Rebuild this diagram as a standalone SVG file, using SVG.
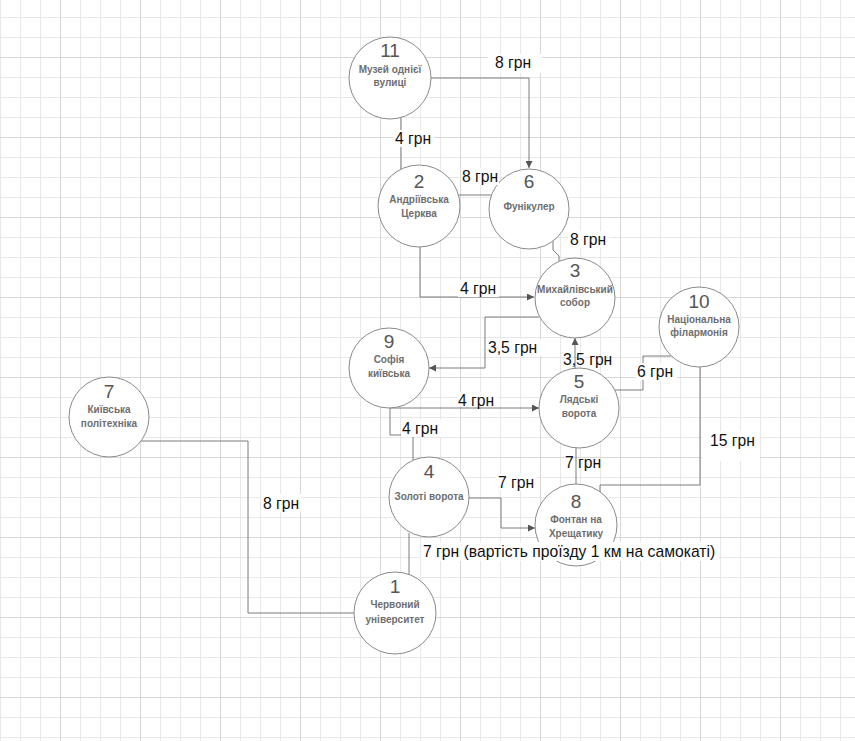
<svg xmlns="http://www.w3.org/2000/svg" width="855" height="741" viewBox="0 0 855 741">
<defs>
<pattern id="minor" x="0" y="17" width="20" height="20" patternUnits="userSpaceOnUse">
<rect x="0" y="0" width="1" height="20" fill="#e8e8e8"/>
<rect x="0" y="0" width="20" height="1" fill="#e8e8e8"/>
</pattern>
<pattern id="major" x="60" y="57" width="80" height="80" patternUnits="userSpaceOnUse">
<rect x="0" y="0" width="1" height="80" fill="#d8d8d8"/>
<rect x="0" y="0" width="80" height="1" fill="#d8d8d8"/>
</pattern>
<marker id="arr" viewBox="0 0 10 10" refX="10" refY="5" markerWidth="9" markerHeight="7" markerUnits="userSpaceOnUse" orient="auto">
<path d="M0,0 L10,5 L0,10 z" fill="#555"/>
</marker>
<style>
.node circle{fill:#fff;stroke:#8a8a8a;stroke-width:1}
.num{font-family:"Liberation Sans",Arial,sans-serif;font-size:19px;fill:#555;text-anchor:middle}
.nm{font-family:"Liberation Sans",Arial,sans-serif;font-size:10px;font-weight:bold;fill:#6e6e6e;text-anchor:middle}
.edge{fill:none;stroke:#7a7a7a;stroke-width:1}
.ar{marker-end:url(#arr)}
.lbl{font-family:"Liberation Sans",Arial,sans-serif;font-size:15.7px;fill:#111}
.bg{fill:#fff}
</style>
</defs>
<rect width="855" height="741" fill="#fff"/>
<rect width="855" height="741" fill="url(#minor)"/>
<rect width="855" height="741" fill="url(#major)"/>

<g id="connectors">
<path class="edge ar" d="M431,78 H529 V168"/>
<path class="edge" d="M401,117 V169"/>
<path class="edge" d="M459,195 H491"/>
<path class="edge" d="M553,241 V250 L559,256 V261"/>
<path class="edge ar" d="M420,247 V297 H534"/>
<path class="edge ar" d="M539,317 H485 V368 H429"/>
<path class="edge ar" d="M575,368 V338"/>
<path class="edge ar" d="M390,408 H539"/>
<path class="edge" d="M390,408 V435 H413 V460"/>
<path class="edge" d="M615,390 H643 V356 H671"/>
<path class="edge" d="M700,367 V485 H600 V492"/>
<path class="edge" d="M576,448 V484"/>
<path class="edge ar" d="M469,498 H501 V528 H535"/>
<path class="edge" d="M409,533 V575"/>
<path class="edge" d="M141,441 H248 V613 H354"/>
</g>

<g id="nodes">
<g id="n11" class="node"><circle cx="390" cy="78" r="41"/><text class="num" x="390" y="57">11</text><text class="nm" x="390" y="73">Музей однієї</text><text class="nm" x="390" y="86">вулиці</text></g>
<g id="n2" class="node"><circle cx="419" cy="206" r="41"/><text class="num" x="419" y="188">2</text><text class="nm" x="419" y="203">Андріївська</text><text class="nm" x="419" y="217">Церква</text></g>
<g id="n6" class="node"><circle cx="529" cy="209" r="40"/><text class="num" x="529" y="188">6</text><text class="nm" x="529" y="210">Фунікулер</text></g>
<g id="n3" class="node"><circle cx="575" cy="298" r="40"/><text class="num" x="575" y="277">3</text><text class="nm" x="575" y="293">Михайлівський</text><text class="nm" x="575" y="306">собор</text></g>
<g id="n9" class="node"><circle cx="389" cy="368" r="40"/><text class="num" x="389" y="348">9</text><text class="nm" x="389" y="363">Софія</text><text class="nm" x="389" y="377">київська</text></g>
<g id="n5" class="node"><circle cx="579" cy="408" r="40"/><text class="num" x="579" y="388">5</text><text class="nm" x="579" y="403">Лядські</text><text class="nm" x="579" y="417">ворота</text></g>
<g id="n10" class="node"><circle cx="699" cy="327" r="40"/><text class="num" x="699" y="308">10</text><text class="nm" x="699" y="323">Національна</text><text class="nm" x="699" y="336">філармонія</text></g>
<g id="n4" class="node"><circle cx="429" cy="497" r="40"/><text class="num" x="429" y="478">4</text><text class="nm" x="429" y="500">Золоті ворота</text></g>
<g id="n8" class="node"><circle cx="576" cy="525" r="41"/><text class="num" x="576" y="508">8</text><text class="nm" x="576" y="523">Фонтан на</text><text class="nm" x="576" y="537">Хрещатику</text></g>
<g id="n1" class="node"><circle cx="395" cy="613" r="41"/><text class="num" x="395" y="593">1</text><text class="nm" x="395" y="608">Червоний</text><text class="nm" x="395" y="623">університет</text></g>
<g id="n7" class="node"><circle cx="109" cy="417" r="40"/><text class="num" x="109" y="398">7</text><text class="nm" x="109" y="413">Київська</text><text class="nm" x="109" y="427">політехніка</text></g>
</g>

<g id="edge-labels">
<rect class="bg" x="488" y="54" width="54" height="19"/><text class="lbl" x="495" y="68">8 грн</text>
<rect class="bg" x="393" y="130" width="41" height="17"/><text class="lbl" x="395" y="144">4 грн</text>
<rect class="bg" x="461" y="168" width="38" height="17"/><text class="lbl" x="462" y="182">8 грн</text>
<rect class="bg" x="568" y="231" width="41" height="17"/><text class="lbl" x="570" y="245">8 грн</text>
<rect class="bg" x="458" y="280" width="41" height="17"/><text class="lbl" x="460" y="294">4 грн</text>
<rect class="bg" x="487" y="339" width="54" height="17"/><text class="lbl" x="488" y="353">3,5 грн</text>
<text class="lbl" x="563" y="365">3,5 грн</text>
<rect class="bg" x="457" y="392" width="41" height="14"/><text class="lbl" x="458" y="406">4 грн</text>
<rect class="bg" x="401" y="420" width="40" height="17"/><text class="lbl" x="402" y="434">4 грн</text>
<rect class="bg" x="636" y="363" width="41" height="17"/><text class="lbl" x="637" y="377">6 грн</text>
<rect class="bg" x="702" y="431" width="58" height="30"/><text class="lbl" x="710" y="446">15 грн</text>
<text class="lbl" x="565" y="468">7 грн</text>
<rect class="bg" x="496" y="474" width="41" height="17"/><text class="lbl" x="498" y="488">7 грн</text>
<rect class="bg" x="421" y="542" width="298" height="19"/><text class="lbl" x="423" y="557">7 грн (вартість проїзду 1 км на самокаті)</text>
<rect class="bg" x="261" y="494" width="41" height="18"/><text class="lbl" x="263" y="509">8 грн</text>
</g>
</svg>
